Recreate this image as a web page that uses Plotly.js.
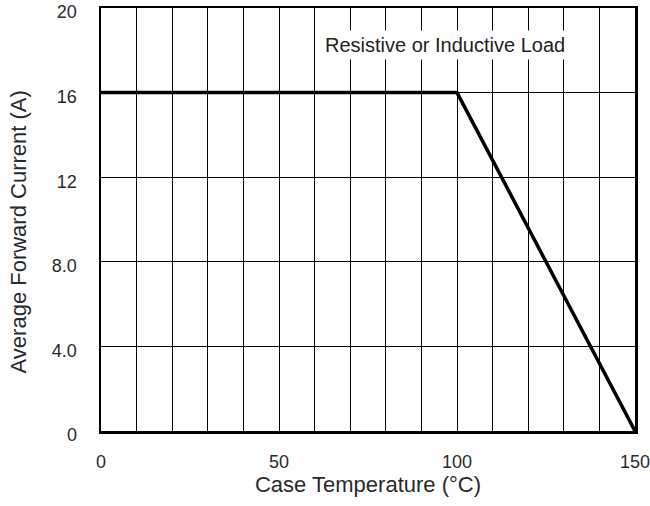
<!DOCTYPE html>
<html>
<head>
<meta charset="utf-8">
<script src="https://cdn.plot.ly/plotly-3.0.1.min.js"></script>
<style>html,body{margin:0;padding:0;background:#fff;}#chart{width:650px;height:506px;}</style>
</head>
<body>
<div id="chart"></div>
<script>
const caseTemp = [0, 100, 150];
const forwardCurrent = [16, 16, 0];
const xTickVals = [0, 10, 20, 30, 40, 50, 60, 70, 80, 90, 100, 110, 120, 130, 140, 150];
const xTickText = ['0', '', '', '', '', '50', '', '', '', '', '100', '', '', '', '', '150'];
const yTickVals = [0, 4, 8, 12, 16, 20];
const yTickText = ['0', '4.0', '8.0', '12', '16', '20'];
const xTitle = 'Case Temperature (°C)';
const yTitle = 'Average Forward Current (A)';
const noteText = 'Resistive or Inductive Load';

const fam = 'Liberation Sans, Arial, sans-serif';
const tickFont = {family: fam, size: 18, color: '#2a2a2a'};
const titleFont = {family: fam, size: 22, color: '#2a2a2a'};

Plotly.newPlot('chart', [{
  x: caseTemp, y: forwardCurrent, type: 'scatter', mode: 'lines',
  line: {color: '#000', width: 3.5}, hoverinfo: 'skip'
}], {
  width: 650, height: 506,
  margin: {l: 101, r: 15, t: 8, b: 75},
  paper_bgcolor: '#fff', plot_bgcolor: '#fff',
  showlegend: false,
  font: tickFont,
  xaxis: {
    range: [0, 150], tickmode: 'array', tickvals: xTickVals, ticktext: xTickText,
    showgrid: true, gridcolor: '#000', gridwidth: 1, zeroline: false,
    showline: true, mirror: true, linecolor: '#000', linewidth: 2.5,
    ticks: '', ticklabelstandoff: 13, tickfont: tickFont, ticklabeloverflow: 'allow',
    title: {text: xTitle, font: titleFont, standoff: 5}
  },
  yaxis: {
    range: [0, 20], tickmode: 'array', tickvals: yTickVals, ticktext: yTickText,
    showgrid: true, gridcolor: '#000', gridwidth: 1, zeroline: false,
    showline: true, mirror: true, linecolor: '#000', linewidth: 2.5,
    ticks: '', ticklabelstandoff: 18, ticklabelshift: 4, tickfont: tickFont, ticklabeloverflow: 'allow'
  },
  annotations: [{
    x: 96.6, y: 18.25, xref: 'x', yref: 'y', text: noteText, showarrow: false,
    bgcolor: '#fff', font: {family: fam, size: 20, color: '#222'}, borderpad: 3
  }, {
    x: -0.155, y: 0.47, xref: 'paper', yref: 'paper', text: yTitle, showarrow: false,
    textangle: -90, xanchor: 'center', yanchor: 'middle', font: titleFont
  }]
}, {staticPlot: true});
</script>
</body>
</html>
